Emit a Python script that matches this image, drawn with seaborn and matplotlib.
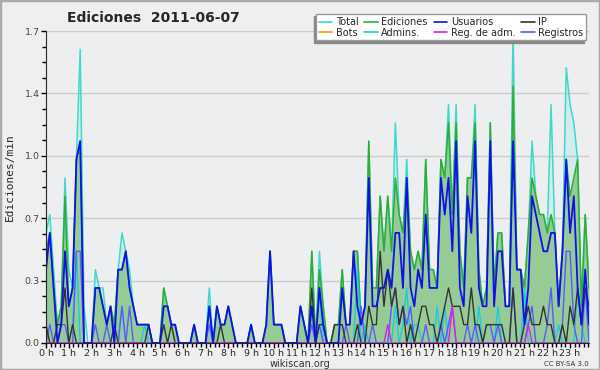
import numpy as np
import pandas as pd
import seaborn as sns
import matplotlib.pyplot as plt
from matplotlib.lines import Line2D
from matplotlib.patches import Rectangle
from matplotlib.ticker import FixedLocator, MultipleLocator

# edits per 10-minute slot, 144 slots for the day 2011-06-07
total = [6, 7, 4, 1, 2, 9, 4, 3, 10, 16, 2, 0,
         0, 4, 3, 3, 1, 2, 1, 4, 6, 5, 4, 2,
         1, 1, 1, 1, 0, 0, 0, 3, 2, 1, 1, 0,
         0, 0, 0, 1, 0, 0, 0, 3, 0, 2, 1, 1,
         2, 1, 0, 0, 0, 0, 1, 0, 0, 0, 1, 5,
         1, 1, 1, 0, 0, 0, 0, 2, 1, 0, 5, 0,
         5, 2, 0, 0, 1, 1, 4, 1, 1, 5, 5, 1,
         2, 11, 3, 3, 8, 5, 8, 5, 12, 7, 6, 10,
         5, 4, 5, 4, 10, 4, 4, 3, 10, 9, 13, 7,
         13, 5, 3, 9, 9, 13, 4, 2, 3, 12, 3, 6,
         6, 2, 2, 17, 4, 4, 3, 6, 11, 8, 7, 7,
         6, 13, 6, 2, 5, 15, 13, 12, 10, 2, 7, 3]
ediciones = [5, 6, 3, 1, 2, 8, 2, 3, 10, 11, 0, 0,
             0, 3, 3, 2, 1, 2, 1, 4, 4, 5, 3, 2,
             1, 1, 1, 1, 0, 0, 0, 3, 2, 1, 1, 0,
             0, 0, 0, 1, 0, 0, 0, 2, 0, 2, 1, 1,
             2, 1, 0, 0, 0, 0, 1, 0, 0, 0, 1, 5,
             1, 1, 1, 0, 0, 0, 0, 2, 1, 0, 5, 0,
             4, 2, 0, 0, 1, 1, 4, 1, 1, 5, 5, 1,
             2, 11, 3, 3, 8, 5, 8, 5, 9, 7, 6, 9,
             5, 4, 5, 4, 10, 4, 4, 3, 10, 9, 12, 7,
             12, 5, 3, 9, 9, 12, 4, 2, 3, 12, 3, 6,
             6, 2, 2, 14, 4, 4, 3, 6, 9, 8, 7, 7,
             6, 7, 6, 2, 5, 10, 8, 9, 10, 2, 7, 3]
usuarios = [4, 6, 3, 0, 1, 5, 2, 3, 10, 11, 0, 0,
            0, 3, 3, 2, 1, 2, 0, 4, 4, 5, 3, 2,
            1, 1, 1, 1, 0, 0, 0, 2, 2, 1, 1, 0,
            0, 0, 0, 1, 0, 0, 0, 2, 0, 2, 1, 1,
            2, 1, 0, 0, 0, 0, 1, 0, 0, 0, 1, 5,
            1, 1, 1, 0, 0, 0, 0, 2, 1, 0, 2, 0,
            3, 1, 0, 0, 0, 0, 3, 1, 1, 5, 2, 1,
            2, 9, 2, 2, 3, 3, 4, 3, 6, 6, 3, 9,
            3, 2, 4, 3, 7, 3, 3, 3, 9, 7, 9, 5,
            11, 3, 2, 8, 6, 11, 3, 2, 2, 11, 2, 5,
            5, 2, 2, 11, 4, 4, 1, 3, 8, 7, 6, 5,
            5, 6, 6, 2, 5, 10, 6, 8, 3, 1, 4, 1]
ip = [1, 0, 0, 1, 1, 3, 0, 1, 0, 0, 0, 0,
      0, 0, 0, 0, 0, 0, 1, 0, 0, 0, 0, 0,
      0, 0, 0, 1, 0, 0, 0, 1, 0, 1, 0, 0,
      0, 0, 0, 0, 0, 0, 0, 0, 0, 0, 1, 0,
      0, 0, 0, 0, 0, 0, 0, 0, 0, 0, 0, 0,
      0, 0, 0, 0, 0, 0, 0, 0, 0, 0, 3, 0,
      1, 1, 0, 0, 1, 1, 1, 0, 0, 0, 1, 0,
      0, 2, 1, 1, 5, 2, 4, 2, 3, 1, 2, 0,
      1, 0, 1, 2, 2, 1, 1, 0, 1, 2, 3, 2,
      2, 2, 1, 1, 3, 1, 1, 0, 1, 1, 1, 1,
      1, 0, 0, 3, 0, 0, 1, 2, 1, 1, 1, 2,
      1, 1, 0, 0, 1, 0, 2, 1, 3, 1, 3, 2]
registros = [0, 1, 0, 0, 1, 1, 0, 0, 5, 5, 0, 0,
             0, 1, 0, 0, 1, 0, 0, 0, 2, 0, 2, 0,
             0, 0, 0, 0, 0, 0, 0, 0, 0, 0, 0, 0,
             0, 0, 0, 0, 0, 0, 0, 1, 0, 0, 0, 0,
             0, 0, 0, 0, 0, 0, 0, 0, 0, 0, 0, 0,
             0, 0, 0, 0, 0, 0, 0, 0, 0, 0, 1, 0,
             1, 0, 0, 0, 0, 0, 0, 1, 0, 0, 0, 2,
             0, 0, 1, 0, 0, 0, 0, 2, 3, 1, 2, 1,
             2, 0, 0, 0, 1, 0, 0, 0, 1, 0, 1, 2,
             0, 0, 0, 1, 0, 1, 0, 0, 1, 1, 0, 1,
             0, 0, 0, 3, 0, 0, 0, 1, 2, 0, 0, 0,
             1, 3, 0, 0, 1, 5, 5, 1, 0, 0, 3, 0]
admins = [0, 0, 0, 0, 0, 0, 0, 1, 5, 0, 0, 0,
          0, 0, 0, 0, 0, 0, 0, 0, 2, 0, 0, 0,
          0, 0, 1, 0, 0, 0, 0, 0, 0, 0, 0, 0,
          0, 0, 0, 0, 0, 0, 0, 2, 0, 0, 0, 0,
          0, 0, 0, 0, 0, 0, 0, 0, 0, 0, 0, 0,
          0, 0, 0, 0, 0, 0, 0, 0, 0, 0, 0, 0,
          3, 0, 0, 0, 0, 0, 0, 0, 0, 0, 4, 0,
          1, 0, 0, 0, 0, 0, 0, 0, 2, 0, 1, 3,
          0, 1, 1, 0, 0, 0, 0, 2, 0, 2, 0, 0,
          0, 0, 0, 0, 0, 0, 2, 0, 0, 0, 0, 2,
          0, 0, 0, 0, 0, 0, 3, 0, 0, 0, 0, 0,
          0, 0, 0, 1, 0, 0, 0, 0, 3, 1, 0, 0]
reg_adm = [0] * 90 + [1] + [0] * 16 + [2] + [0] * 19 + [1] + [0] * 16

hour_labels = ['%d h' % h for h in range(24)]
ytick_vals = [0, 0.34, 0.68, 1.02, 1.36, 1.7]
ytick_labels = ['0.0', '0.3', '0.7', '1.0', '1.4', '1.7']

df = pd.DataFrame({'Total': total, 'Ediciones': ediciones, 'Usuarios': usuarios,
                   'IP': ip, 'Registros': registros, 'Admins.': admins,
                   'Reg. de adm.': reg_adm}) / 10.0  # edits per minute
df['hora'] = np.arange(len(df)) / 6.0

colors = {'Total': '#40d8cc', 'Ediciones': '#33aa33', 'Usuarios': '#1010e8',
          'IP': '#333333', 'Bots': '#ff9900', 'Admins.': '#22c8e0',
          'Reg. de adm.': '#e020e0', 'Registros': '#5a5aff'}

sns.set_style("ticks")
plt.rcParams['font.family'] = ['DejaVu Sans']

fig = plt.figure(figsize=(6, 3.7), dpi=100, facecolor='#efefef')
ax = fig.add_axes([0.0767, 0.073, 0.905, 0.843])
ax.set_facecolor('#eceef0')

ax.fill_between(df['hora'], df['Total'], color='#40e0d0', alpha=0.15, lw=0)
ax.fill_between(df['hora'], df['Ediciones'], color='#96cb96', lw=0)
sns.lineplot(data=df, x='hora', y='Total', ax=ax, color=colors['Total'], lw=1.1, legend=False)
sns.lineplot(data=df, x='hora', y='Ediciones', ax=ax, color=colors['Ediciones'], lw=1.1, legend=False)
for name in ['Admins.', 'Registros', 'IP', 'Reg. de adm.']:
    sns.lineplot(data=df, x='hora', y=name, ax=ax, color=colors[name], lw=1.0, legend=False)
sns.lineplot(data=df, x='hora', y='Usuarios', ax=ax, color=colors['Usuarios'], lw=1.3, legend=False)

ax.set_xlim(0, df['hora'].iloc[-1])
ax.set_ylim(0, 1.7)
ax.yaxis.set_major_locator(FixedLocator(ytick_vals))
ax.set_yticklabels(ytick_labels)
ax.yaxis.set_minor_locator(MultipleLocator(0.085))
ax.set_xticks(range(24))
ax.set_xticklabels(hour_labels)
ax.xaxis.set_minor_locator(MultipleLocator(0.2))
ax.tick_params(which='both', direction='out', color='black', width=1, labelsize=6.8, pad=0.5)
ax.tick_params(which='major', length=3.5)
ax.tick_params(which='minor', length=3)
ax.tick_params(axis='y', labelcolor='#444444', pad=1)
ax.yaxis.grid(True, color='#cccccc', lw=1)
ax.set_axisbelow(True)
ax.set_xlabel('')
ax.set_ylabel('')
sns.despine(ax=ax)

order = ['Total', 'Bots', 'Ediciones', 'Admins.', 'Usuarios', 'Reg. de adm.', 'IP', 'Registros']
handles = [Line2D([], [], color=colors[n], lw=1.2) for n in order]
fig.legend(handles, order, ncol=4, loc='upper right', bbox_to_anchor=(0.985, 0.975),
           fancybox=False, fontsize=7, handlelength=1.4, columnspacing=0.6,
           handletextpad=0.35, labelspacing=0.05, borderpad=0.3, framealpha=1,
           facecolor='white', edgecolor='#999999',
           shadow={'ox': -1.5, 'oy': -1.5, 'facecolor': '#888888', 'edgecolor': '#888888', 'alpha': 1})

fig.text(0.255, 0.952, 'Ediciones  2011-06-07', fontweight='bold', fontsize=10, ha='center', va='center')
fig.text(0.017, 0.52, 'Ediciones/min', rotation=90, family='DejaVu Sans Mono', fontsize=8,
         ha='center', va='center')
fig.text(0.5, 0.016, 'wikiscan.org', fontsize=7, ha='center', va='center', color='#333333')
fig.text(0.982, 0.016, 'CC BY-SA 3.0', fontsize=5, ha='right', va='center', color='#333333')
fig.patches.append(Rectangle((0, 0), 1, 1, transform=fig.transFigure, fill=False,
                             edgecolor='#aaaaaa', lw=2.5))

fig.savefig('out.png', dpi=100, facecolor=fig.get_facecolor())
